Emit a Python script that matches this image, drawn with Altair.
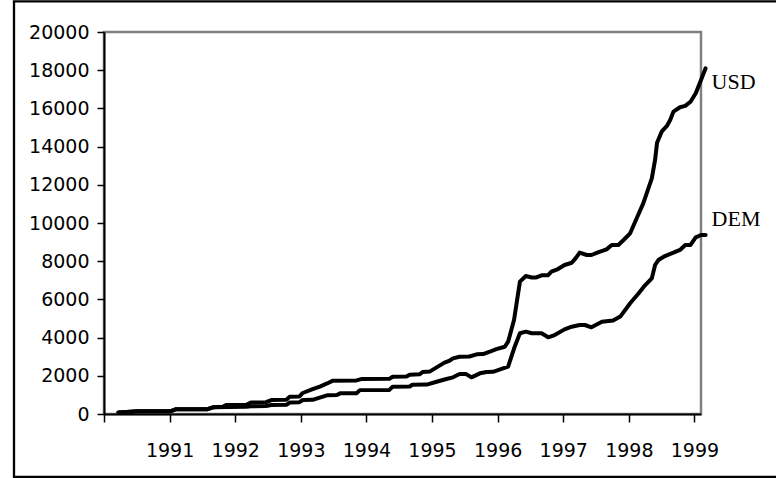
import altair as alt
import pandas as pd

# USD series (time in fractional years, value)
usd_t = [1990.22, 1990.40, 1990.51, 1991.02, 1991.10, 1991.58, 1991.66, 1991.81, 1991.86,
         1992.17, 1992.24, 1992.47, 1992.55, 1992.78, 1992.83, 1992.98, 1993.03, 1993.18,
         1993.30, 1993.40, 1993.49, 1993.85, 1993.92, 1994.35, 1994.40, 1994.61, 1994.66,
         1994.81, 1994.86, 1994.97, 1995.07, 1995.19, 1995.27, 1995.32, 1995.42, 1995.57,
         1995.68, 1995.78, 1995.88, 1995.98, 1996.11, 1996.16, 1996.25, 1996.34, 1996.43,
         1996.52, 1996.59, 1996.67, 1996.77, 1996.82, 1996.92, 1997.02, 1997.13, 1997.20,
         1997.25, 1997.36, 1997.43, 1997.53, 1997.66, 1997.74, 1997.84, 1997.92, 1998.02,
         1998.12, 1998.22, 1998.35, 1998.40, 1998.43, 1998.50, 1998.58, 1998.63, 1998.68,
         1998.78, 1998.86, 1998.94, 1999.02, 1999.10, 1999.17]
usd_v = [80, 120, 150, 150, 250, 250, 350, 380, 470,
         480, 600, 620, 730, 750, 900, 920, 1100, 1300,
         1450, 1600, 1745, 1760, 1830, 1840, 1950, 1960, 2060,
         2080, 2200, 2230, 2440, 2690, 2800, 2915, 3000, 3010,
         3125, 3140, 3260, 3400, 3520, 3785, 4920, 6930, 7225,
         7150, 7150, 7260, 7270, 7450, 7590, 7800, 7920, 8200,
         8450, 8325, 8325, 8465, 8620, 8850, 8850, 9110, 9460,
         10245, 11030, 12340, 13300, 14200, 14780, 15080, 15390, 15830,
         16060, 16130, 16350, 16790, 17490, 18100]

# DEM series
dem_t = [1990.22, 1990.40, 1990.51, 1991.02, 1991.10, 1991.58, 1991.66, 1992.17, 1992.24,
         1992.47, 1992.55, 1992.78, 1992.83, 1992.98, 1993.03, 1993.18, 1993.30, 1993.40,
         1993.55, 1993.60, 1993.85, 1993.90, 1994.35, 1994.40, 1994.66, 1994.70, 1994.92,
         1995.07, 1995.22, 1995.32, 1995.42, 1995.52, 1995.60, 1995.73, 1995.83, 1995.93,
         1996.06, 1996.16, 1996.26, 1996.34, 1996.43, 1996.52, 1996.67, 1996.77, 1996.87,
         1997.02, 1997.13, 1997.25, 1997.33, 1997.43, 1997.59, 1997.76, 1997.87, 1998.02,
         1998.15, 1998.25, 1998.35, 1998.40, 1998.45, 1998.55, 1998.68, 1998.78, 1998.86,
         1998.94, 1999.02, 1999.10, 1999.17]
dem_v = [80, 120, 150, 150, 250, 250, 350, 380, 400,
         420, 470, 480, 600, 620, 730, 740, 870, 980,
         990, 1080, 1090, 1250, 1260, 1430, 1440, 1530, 1540,
         1690, 1830, 1920, 2090, 2090, 1920, 2130, 2200, 2210,
         2360, 2480, 3525, 4225, 4310, 4225, 4225, 4015, 4135,
         4430, 4570, 4660, 4660, 4540, 4830, 4890, 5100, 5800,
         6320, 6750, 7100, 7800, 8060, 8270, 8445, 8590, 8850,
         8850, 9250, 9370, 9370]

series_names = ["USD", "DEM"]
x_ticks = [1990, 1991, 1992, 1993, 1994, 1995, 1996, 1997, 1998, 1999]
y_ticks = [0, 2000, 4000, 6000, 8000, 10000, 12000, 14000, 16000, 18000, 20000]

df = pd.concat([
    pd.DataFrame({"t": usd_t, "v": usd_v, "s": "USD"}),
    pd.DataFrame({"t": dem_t, "v": dem_v, "s": "DEM"}),
])
labels = pd.DataFrame({
    "t": [usd_t[-1], dem_t[-1]],
    "v": [usd_v[-1], dem_v[-1]],
    "s": series_names,
})

x_axis = alt.Axis(values=x_ticks, format="d", title=None, grid=False,
                  labelExpr="datum.value == 1990 ? '' : datum.label",
                  labelOverlap=False,
                  tickSize=8, labelPadding=19, domainColor="black", domainWidth=2,
                  tickColor="black", tickWidth=1.5, labelFont="DejaVu Sans",
                  labelFontSize=19, labelColor="black")
y_axis = alt.Axis(values=y_ticks, title=None, grid=False, format="d",
                  labelOverlap=False, tickCount=11,
                  tickSize=7, labelPadding=8, domainColor="black", domainWidth=2,
                  tickColor="black", tickWidth=1.5, labelFont="DejaVu Sans",
                  labelFontSize=19, labelColor="black")
x_scale = alt.Scale(domain=[1990, 1999.1], nice=False, zero=False)
y_scale = alt.Scale(domain=[0, 20000], nice=False)

lines = alt.Chart(df).mark_line(color="black", strokeWidth=4, strokeJoin="round",
                                strokeCap="round").encode(
    x=alt.X("t:Q", scale=x_scale, axis=x_axis),
    y=alt.Y("v:Q", scale=y_scale, axis=y_axis),
    detail="s:N")

usd_lab = alt.Chart(labels[labels.s == "USD"]).mark_text(
    align="left", baseline="middle", dx=6, dy=14, font="Liberation Serif",
    fontSize=22, color="black").encode(
    x=alt.X("t:Q", scale=x_scale, axis=x_axis),
    y=alt.Y("v:Q", scale=y_scale, axis=y_axis), text="s:N")
dem_lab = alt.Chart(labels[labels.s == "DEM"]).mark_text(
    align="left", baseline="middle", dx=6, dy=-16, font="Liberation Serif",
    fontSize=22, color="black").encode(
    x=alt.X("t:Q", scale=x_scale, axis=x_axis),
    y=alt.Y("v:Q", scale=y_scale, axis=y_axis), text="s:N")

frame = alt.Chart(labels.head(1)).mark_rect(
    fill=None, stroke="black", strokeWidth=2.3).encode(
    x=alt.value(-90), x2=alt.value(684), y=alt.value(-30.7), y2=alt.value(444.8))

chart = alt.layer(lines, usd_lab, dem_lab, frame).properties(
    width=597, height=382,
    autosize=alt.AutoSizeParams(type="none"),
    padding={"left": 104, "top": 32, "right": 75, "bottom": 64},
    background="white",
).configure_view(stroke="#808080", strokeWidth=2.5)

chart.save("out.html", embed_options={"renderer": "svg", "actions": False})
